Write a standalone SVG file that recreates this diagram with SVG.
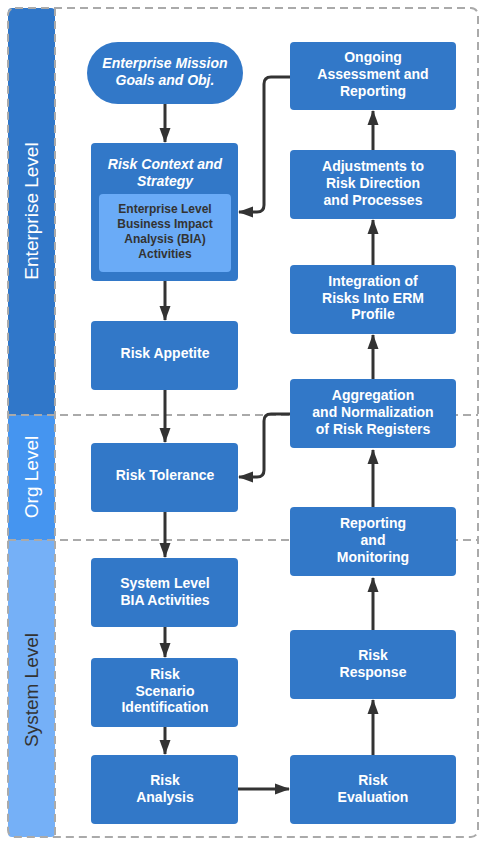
<svg xmlns="http://www.w3.org/2000/svg" width="486" height="844" viewBox="0 0 486 844">
<style>
.node{fill:#3278c8;}
.t{font-family:"Liberation Sans",Arial,sans-serif;font-weight:bold;font-size:14px;fill:#fff;text-anchor:middle;}
.ti{font-style:italic;}
.td{fill:#333;font-size:12px;}
.lane{font-family:"Liberation Sans",Arial,sans-serif;font-size:19px;text-anchor:middle;}
.dash{fill:none;stroke:#aaa;stroke-width:2;stroke-dasharray:8 5;}
.c{fill:none;stroke:#333;stroke-width:3;marker-end:url(#ah);}
</style>
<defs>
<marker id="ah" viewBox="0 0 15 11" refX="14" refY="5.5" markerWidth="5" markerHeight="3.667" orient="auto" markerUnits="strokeWidth">
<path d="M0,0 L15,5.5 L0,11 Z" fill="#333"/>
</marker>
</defs>
<rect width="486" height="844" fill="#fff"/>
<g id="lanes">
<rect x="8" y="8" width="47" height="407" rx="4" fill="#3077c9"/>
<rect x="8" y="415" width="47" height="125" fill="#4595f0"/>
<rect x="8" y="540" width="47" height="297" rx="4" fill="#75b0f7"/>
<text class="lane" fill="#fff" transform="translate(38,211) rotate(-90)">Enterprise Level</text>
<text class="lane" fill="#fff" transform="translate(38,477) rotate(-90)">Org Level</text>
<text class="lane" fill="#333" transform="translate(38,690) rotate(-90)">System Level</text>
<rect class="dash" x="8" y="8" width="470" height="829" rx="7"/>
<line class="dash" x1="55" y1="8" x2="55" y2="837"/>
<line class="dash" x1="8" y1="415" x2="478" y2="415"/>
<line class="dash" x1="8" y1="540" x2="478" y2="540"/>
</g>
<g id="connectors">
<line class="c" x1="165" y1="104" x2="165" y2="142"/>
<line class="c" x1="165" y1="281" x2="165" y2="320"/>
<line class="c" x1="165" y1="390" x2="165" y2="442"/>
<line class="c" x1="165" y1="512" x2="165" y2="557"/>
<line class="c" x1="165" y1="627" x2="165" y2="657"/>
<line class="c" x1="165" y1="727" x2="165" y2="754"/>
<line class="c" x1="238" y1="789" x2="289" y2="789"/>
<line class="c" x1="373" y1="755" x2="373" y2="700"/>
<line class="c" x1="373" y1="630" x2="373" y2="578"/>
<line class="c" x1="373" y1="507" x2="373" y2="450"/>
<line class="c" x1="373" y1="379" x2="373" y2="335"/>
<line class="c" x1="373" y1="265" x2="373" y2="220"/>
<line class="c" x1="373" y1="150" x2="373" y2="111"/>
<path class="c" d="M290,77 H271 Q264,77 264,84 V205 Q264,212 257,212 H239"/>
<path class="c" d="M290,414 H271 Q264,414 264,421 V470 Q264,477 257,477 H239"/>
</g>
<g id="mission">
<rect class="node" x="87" y="42" width="156" height="62" rx="31"/>
<text class="t ti" x="165" y="68">Enterprise Mission</text>
<text class="t ti" x="165" y="85">Goals and Obj.</text>
</g>
<g id="context">
<rect class="node" x="91" y="143" width="147" height="138" rx="4"/>
<text class="t ti" x="165" y="169">Risk Context and</text>
<text class="t ti" x="165" y="186">Strategy</text>
<rect x="99" y="194" width="132" height="78" rx="4" fill="#6aabf7"/>
<text class="t td" x="165" y="213">Enterprise Level</text>
<text class="t td" x="165" y="228">Business Impact</text>
<text class="t td" x="165" y="243">Analysis (BIA)</text>
<text class="t td" x="165" y="258">Activities</text>
</g>
<g id="appetite">
<rect class="node" x="91" y="321" width="147" height="69" rx="4"/>
<text class="t" x="165" y="358">Risk Appetite</text>
</g>
<g id="tolerance">
<rect class="node" x="91" y="443" width="147" height="69" rx="4"/>
<text class="t" x="165" y="480">Risk Tolerance</text>
</g>
<g id="sysbia">
<rect class="node" x="91" y="558" width="147" height="69" rx="4"/>
<text class="t" x="165" y="588">System Level</text>
<text class="t" x="165" y="605">BIA Activities</text>
</g>
<g id="scenario">
<rect class="node" x="91" y="658" width="147" height="69" rx="4"/>
<text class="t" x="165" y="679">Risk</text>
<text class="t" x="165" y="696">Scenario</text>
<text class="t" x="165" y="712">Identification</text>
</g>
<g id="analysis">
<rect class="node" x="91" y="755" width="147" height="69" rx="4"/>
<text class="t" x="165" y="785">Risk</text>
<text class="t" x="165" y="802">Analysis</text>
</g>
<g id="evaluation">
<rect class="node" x="290" y="755" width="166" height="69" rx="4"/>
<text class="t" x="373" y="785">Risk</text>
<text class="t" x="373" y="802">Evaluation</text>
</g>
<g id="response">
<rect class="node" x="290" y="630" width="166" height="69" rx="4"/>
<text class="t" x="373" y="660">Risk</text>
<text class="t" x="373" y="677">Response</text>
</g>
<g id="reporting">
<rect class="node" x="290" y="507" width="166" height="69" rx="4"/>
<text class="t" x="373" y="528">Reporting</text>
<text class="t" x="373" y="545">and</text>
<text class="t" x="373" y="562">Monitoring</text>
</g>
<g id="aggregation">
<rect class="node" x="290" y="379" width="166" height="69" rx="4"/>
<text class="t" x="373" y="400">Aggregation</text>
<text class="t" x="373" y="417">and Normalization</text>
<text class="t" x="373" y="434">of Risk Registers</text>
</g>
<g id="integration">
<rect class="node" x="290" y="265" width="166" height="69" rx="4"/>
<text class="t" x="373" y="286">Integration of</text>
<text class="t" x="373" y="303">Risks Into ERM</text>
<text class="t" x="373" y="319">Profile</text>
</g>
<g id="adjustments">
<rect class="node" x="290" y="150" width="166" height="69" rx="4"/>
<text class="t" x="373" y="171">Adjustments to</text>
<text class="t" x="373" y="188">Risk Direction</text>
<text class="t" x="373" y="205">and Processes</text>
</g>
<g id="ongoing">
<rect class="node" x="290" y="42" width="166" height="68" rx="4"/>
<text class="t" x="373" y="62">Ongoing</text>
<text class="t" x="373" y="79">Assessment and</text>
<text class="t" x="373" y="96">Reporting</text>
</g>
</svg>
